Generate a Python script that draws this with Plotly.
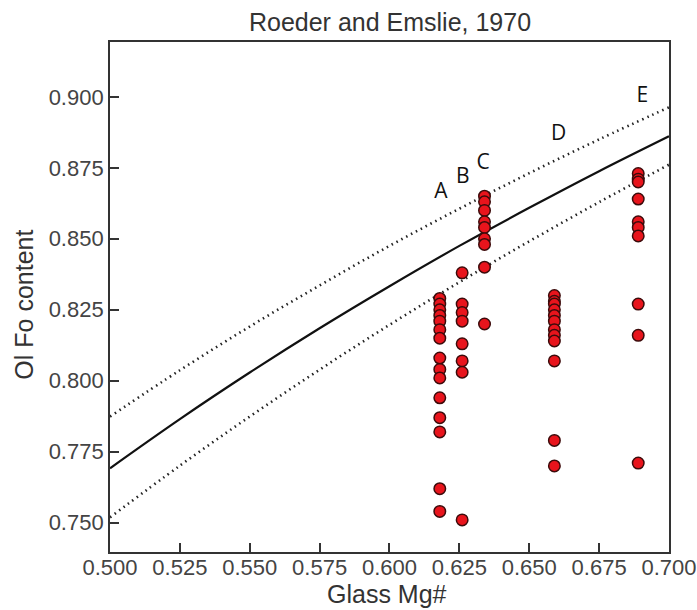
import plotly.graph_objects as go

# Olivine Fo vs glass Mg# for five sample groups (A-E)
glass_mg = {
    "A": 0.618,
    "B": 0.626,
    "C": 0.634,
    "D": 0.659,
    "E": 0.689,
}
ol_fo = {
    "A": [0.829, 0.827, 0.825, 0.823, 0.821, 0.818, 0.815, 0.808, 0.804,
          0.801, 0.794, 0.787, 0.782, 0.762, 0.754],
    "B": [0.838, 0.827, 0.824, 0.821, 0.813, 0.807, 0.803, 0.751],
    "C": [0.865, 0.863, 0.860, 0.856, 0.854, 0.850, 0.848, 0.840, 0.820],
    "D": [0.830, 0.828, 0.827, 0.825, 0.823, 0.821, 0.818, 0.816, 0.814,
          0.807, 0.779, 0.770],
    "E": [0.873, 0.871, 0.870, 0.864, 0.856, 0.854, 0.851, 0.827, 0.816, 0.771],
}

# Equilibrium curves (Roeder & Emslie Kd = 0.30 +/- 0.03)
curve_mg = [0.500, 0.525, 0.550, 0.575, 0.600, 0.625, 0.650, 0.675, 0.700]
fo_kd_030 = [0.7692, 0.7865, 0.8029, 0.8185, 0.8333, 0.8475, 0.8609, 0.8738, 0.8861]
fo_kd_027 = [0.7874, 0.8037, 0.8191, 0.8336, 0.8475, 0.8606, 0.8731, 0.8850, 0.8963]
fo_kd_033 = [0.7519, 0.7701, 0.7874, 0.8039, 0.8197, 0.8347, 0.8491, 0.8629, 0.8761]

# Group label positions
label_x = [0.6184, 0.6262, 0.6335, 0.6605, 0.6905]
label_y = [0.8663, 0.8715, 0.8765, 0.8868, 0.9000]
label_txt = ["A", "B", "C", "D", "E"]

x_ticks = [0.500, 0.525, 0.550, 0.575, 0.600, 0.625, 0.650, 0.675, 0.700]
y_ticks = [0.750, 0.775, 0.800, 0.825, 0.850, 0.875, 0.900]

fig = go.Figure()

dotted = dict(color="#222222", width=2.6, dash="1.5px,4px")
fig.add_trace(go.Scatter(x=curve_mg, y=fo_kd_027, mode="lines", line_shape="spline",
                         line=dotted, hoverinfo="skip"))
fig.add_trace(go.Scatter(x=curve_mg, y=fo_kd_033, mode="lines", line_shape="spline",
                         line=dotted, hoverinfo="skip"))
fig.add_trace(go.Scatter(x=curve_mg, y=fo_kd_030, mode="lines", line_shape="spline",
                         line=dict(color="#111111", width=2.2), hoverinfo="skip"))

for g in ["A", "B", "C", "D", "E"]:
    fig.add_trace(go.Scatter(
        x=[glass_mg[g]] * len(ol_fo[g]), y=ol_fo[g], mode="markers", name=g,
        marker=dict(size=11.5, color="#e8141c",
                    line=dict(color="#3c0b0b", width=1.5)),
    ))

fig.add_trace(go.Scatter(x=label_x, y=label_y, mode="text", text=label_txt,
                         textfont=dict(family="Open Sans", size=21, color="#111111"),
                         hoverinfo="skip"))

axis_common = dict(
    showline=True, linecolor="#333333", linewidth=1.8, mirror=True,
    ticks="inside", ticklen=9, tickwidth=1.5, tickcolor="#333333",
    showgrid=False, zeroline=False, automargin=False,
    tickfont=dict(family="Liberation Sans", size=22, color="#444444"),
)

title_font = dict(family="Liberation Sans", size=25, color="#333333")

fig.update_layout(
    width=697, height=610,
    margin=dict(l=110, r=28, t=42, b=58),
    paper_bgcolor="white", plot_bgcolor="white",
    showlegend=False,
    title=dict(text="Roeder and Emslie, 1970", x=390 / 697, xanchor="center",
               y=1 - 22 / 610, yanchor="middle", yref="container",
               font=title_font),
    xaxis=dict(range=[0.5, 0.70001], tickvals=x_ticks,
               ticktext=[f"{v:.3f}" for v in x_ticks],
               ticklabelstandoff=-5, **axis_common),
    yaxis=dict(range=[0.7397, 0.9193], tickvals=y_ticks,
               ticktext=[f"{v:.3f}" for v in y_ticks], **axis_common),
    annotations=[
        dict(text="Glass Mg#", xref="paper", yref="paper", x=0.4955, y=-0.082,
             xanchor="center", yanchor="middle", showarrow=False, font=title_font),
        dict(text="Ol Fo content", xref="paper", yref="paper", x=-0.1538, y=0.485,
             xanchor="center", yanchor="middle", textangle=-90, showarrow=False,
             font=title_font),
    ],
)

fig.write_html("out.html")
